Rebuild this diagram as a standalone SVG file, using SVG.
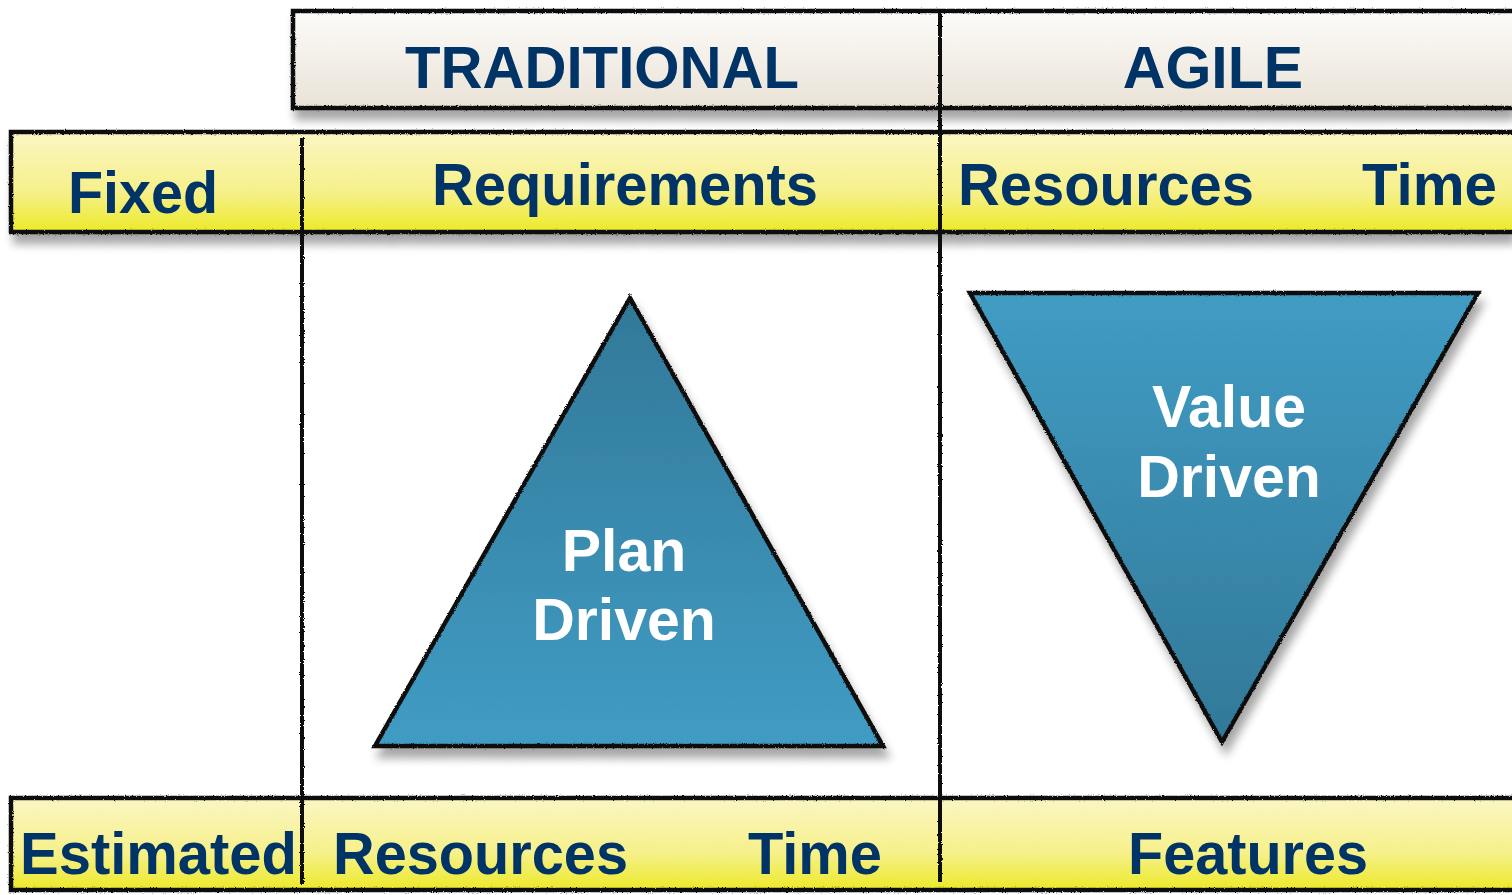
<svg xmlns="http://www.w3.org/2000/svg" width="1512" height="895" viewBox="0 0 1512 895">
<style>
  .lbl{font-family:"Liberation Sans",Arial,sans-serif;font-weight:bold;fill:#003366}
  .tri{font-family:"Liberation Sans",Arial,sans-serif;font-weight:bold;fill:#ffffff;text-anchor:middle}
  .box{stroke:#111;stroke-width:4.5;filter:url(#rough)}
  .ln{stroke:#111;stroke-width:4;fill:none;filter:url(#rough)}
</style>
<defs>
  <linearGradient id="hdr" x1="0" y1="0" x2="0" y2="1">
    <stop offset="0" stop-color="#fdfcfa"/>
    <stop offset="1" stop-color="#e9e2d6"/>
  </linearGradient>
  <linearGradient id="yel" x1="0" y1="0" x2="0" y2="1">
    <stop offset="0" stop-color="#fbf6c4"/>
    <stop offset="0.6" stop-color="#f6f08a"/>
    <stop offset="1" stop-color="#ecea28"/>
  </linearGradient>
  <linearGradient id="blueUp" x1="0" y1="0" x2="0" y2="1">
    <stop offset="0" stop-color="#327898"/>
    <stop offset="1" stop-color="#409cc4"/>
  </linearGradient>
  <linearGradient id="blueDn" x1="0" y1="0" x2="0" y2="1">
    <stop offset="0" stop-color="#409cc4"/>
    <stop offset="1" stop-color="#327898"/>
  </linearGradient>
  <filter id="rough" filterUnits="userSpaceOnUse" x="0" y="0" width="1512" height="895">
    <feTurbulence type="fractalNoise" baseFrequency="0.9" numOctaves="2" seed="3" result="n"/>
    <feDisplacementMap in="SourceGraphic" in2="n" scale="2.5" xChannelSelector="R" yChannelSelector="G"/>
  </filter>
  <filter id="shadow" x="-10%" y="-10%" width="130%" height="140%">
    <feGaussianBlur in="SourceAlpha" stdDeviation="5"/>
    <feOffset dx="4" dy="10" result="b"/>
    <feComponentTransfer><feFuncA type="linear" slope="0.35"/></feComponentTransfer>
    <feMerge><feMergeNode/><feMergeNode in="SourceGraphic"/></feMerge>
  </filter>
</defs>
<rect width="1512" height="895" fill="#ffffff"/>

<g id="header-traditional-agile" filter="url(#shadow)">
  <rect class="box" x="293" y="11" width="1240" height="97" fill="url(#hdr)"/>
</g>
<text class="lbl" x="602" y="88" font-size="59" text-anchor="middle" textLength="394" lengthAdjust="spacingAndGlyphs">TRADITIONAL</text>
<text class="lbl" x="1213" y="88" font-size="59" text-anchor="middle">AGILE</text>

<g id="row-fixed" filter="url(#shadow)">
  <rect class="box" x="11" y="132" width="1530" height="100" fill="url(#yel)"/>
</g>
<text class="lbl" x="68" y="213" font-size="59" textLength="150" lengthAdjust="spacingAndGlyphs">Fixed</text>
<text class="lbl" x="432" y="205" font-size="60" textLength="386" lengthAdjust="spacingAndGlyphs">Requirements</text>
<text class="lbl" x="958" y="205" font-size="60" textLength="296" lengthAdjust="spacingAndGlyphs">Resources</text>
<text class="lbl" x="1362" y="205" font-size="60" textLength="135" lengthAdjust="spacingAndGlyphs">Time</text>

<g id="row-estimated">
  <rect class="box" x="11" y="798" width="1530" height="92" fill="url(#yel)"/>
</g>
<text class="lbl" x="20" y="874" font-size="59" textLength="277" lengthAdjust="spacingAndGlyphs">Estimated</text>
<text class="lbl" x="333" y="874" font-size="59" textLength="295" lengthAdjust="spacingAndGlyphs">Resources</text>
<text class="lbl" x="748" y="874" font-size="59" textLength="134" lengthAdjust="spacingAndGlyphs">Time</text>
<text class="lbl" x="1128" y="874" font-size="59" textLength="240" lengthAdjust="spacingAndGlyphs">Features</text>

<g id="dividers">
  <line class="ln" x1="940" y1="10" x2="940" y2="882"/>
  <line class="ln" x1="302" y1="138" x2="302" y2="884"/>
</g>

<g id="plan-driven" filter="url(#shadow)">
  <polygon class="box" points="630,298 375,746 883,746" fill="url(#blueUp)"/>
</g>
<text class="tri" x="624" y="571" font-size="59">Plan</text>
<text class="tri" x="624" y="640" font-size="59">Driven</text>

<g id="value-driven" filter="url(#shadow)">
  <polygon class="box" points="970,293 1478,293 1222,742" fill="url(#blueDn)"/>
</g>
<text class="tri" x="1229" y="427" font-size="59">Value</text>
<text class="tri" x="1229" y="497" font-size="59">Driven</text>
</svg>
